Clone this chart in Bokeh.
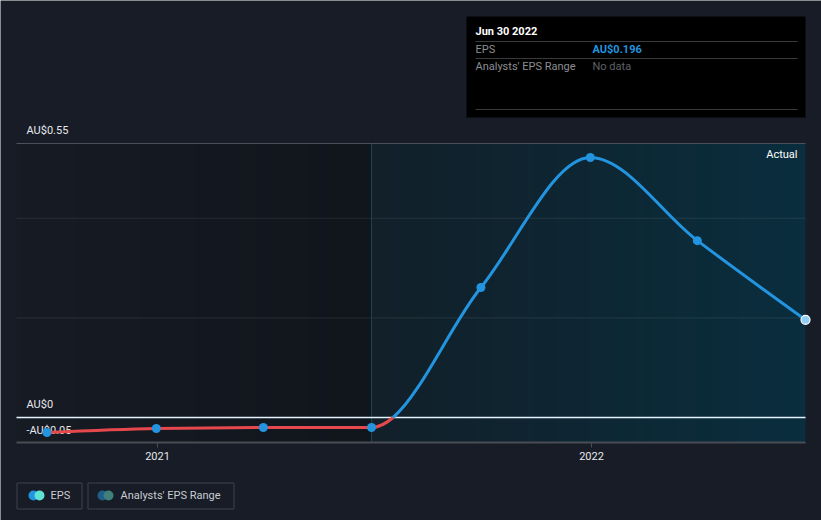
import numpy as np
from bokeh.plotting import figure
from bokeh.models import Range1d, ColumnDataSource
from bokeh.core.properties import value
from bokeh.embed import file_html
from bokeh.resources import INLINE

# ---------------- data ----------------
dates = ["2020-09-30", "2020-12-31", "2021-03-31", "2021-06-30",
         "2021-09-30", "2021-12-31", "2022-03-31", "2022-06-30"]
eps = [-0.030, -0.022, -0.020, -0.020, 0.261, 0.522, 0.355, 0.196]
y_ticks = [0.55, 0.0, -0.05]
y_tick_labels = ["AU$0.55", "AU$0", "-AU$0.05"]
grid_values = [0.2, 0.4]
x_ticks = ["2021-01-01", "2022-01-01"]
x_tick_labels = ["2021", "2022"]
actual_start = "2021-06-30"
y_bottom, y_top = -0.05, 0.55
tooltip_date = "Jun 30 2022"

# ---------------- styles ----------------
BG = "#171c26"
BLUE = "#2394df"
RED = "#e5484d"
FONT = value("Roboto")


def ms(d):
    return float(np.datetime64(d, "ms").astype("int64"))


DAY = 86400000.0
MS_PER_PX = 365 * DAY / 434.0
X0 = ms(x_ticks[0]) - 157 * MS_PER_PX
X1 = X0 + 821 * MS_PER_PX
UPP = 0.55 / 274.0
Y1 = 417 * UPP
Y0 = -(520 - 417) * UPP


def px(p):
    return X0 + p * MS_PER_PX


def py(p):
    return Y1 - p * UPP


p = figure(width=821, height=520, x_range=Range1d(X0, X1), y_range=Range1d(Y0, Y1),
           output_backend="svg", toolbar_location=None, min_border=0,
           x_axis_location=None, y_axis_location=None)
p.grid.visible = False
p.outline_line_color = None
p.background_fill_color = BG
p.border_fill_color = BG

xs = np.array([ms(d) for d in dates])
ys = np.array(eps, dtype=float)
x_left = px(16)
x_right = xs[-1]
x_act = ms(actual_start)


def gradient(c0, c1, n=64):
    c0 = np.array([int(c0[i:i + 2], 16) for i in (1, 3, 5)], dtype=float)
    c1 = np.array([int(c1[i:i + 2], 16) for i in (1, 3, 5)], dtype=float)
    img = np.empty((1, n), dtype=np.uint32)
    view = img.view(dtype=np.uint8).reshape((1, n, 4))
    f = np.linspace(0, 1, n)
    for k in range(3):
        view[0, :, k] = (c0[k] + (c1[k] - c0[k]) * f).astype(np.uint8)
    view[0, :, 3] = 255
    return img


# regions
p.image_rgba(image=[gradient("#171b24", "#11151c")], x=x_left, y=y_bottom,
             dw=x_act - x_left, dh=y_top - y_bottom)
p.image_rgba(image=[gradient("#122029", "#0a2e3e")], x=x_act, y=y_bottom,
             dw=x_right - x_act, dh=y_top - y_bottom)

# grid lines
p.segment(x0=[x_left] * len(grid_values), x1=[x_right] * len(grid_values),
          y0=grid_values, y1=grid_values, line_color="white", line_alpha=0.09, line_width=1)
p.segment(x0=[x_left], x1=[x_right], y0=[y_top], y1=[y_top],
          line_color="#4b5059", line_width=1)
# divider
p.segment(x0=[x_act], x1=[x_act], y0=[y_bottom], y1=[y_top], line_color="#1b4656", line_width=1)
# zero line
p.segment(x0=[x_left], x1=[x_right], y0=[0], y1=[0], line_color="#e3f4ff", line_width=1.5)
# bottom axis
p.segment(x0=[x_left], x1=[x_right], y0=[y_bottom], y1=[y_bottom], line_color="#484d55", line_width=2)
xt = [ms(d) for d in x_ticks]
p.segment(x0=xt, x1=xt, y0=[y_bottom] * len(xt), y1=[py(447)] * len(xt),
          line_color="#484d55", line_width=1)

# y labels
p.text(x=[px(26)] * len(y_ticks), y=[v + 13 * UPP if v != y_bottom else v + 12 * UPP for v in y_ticks],
       text=y_tick_labels, text_font=FONT, text_font_size="11px", text_color="#e6e8eb",
       text_baseline="middle", text_align="left")
# x labels
p.text(x=xt, y=[py(455)] * len(xt), text=x_tick_labels, text_font=FONT, text_font_size="11px",
       text_color="#e6e8eb", text_baseline="middle", text_align="center")

# ---------- smoothed line (monotone X beziers) ----------
n = len(xs)
h = np.diff(xs)
s = np.diff(ys) / h
t = np.zeros(n)
for i in range(1, n - 1):
    h0, h1 = h[i - 1], h[i]
    s0, s1 = s[i - 1], s[i]
    pp = (s0 * h1 + s1 * h0) / (h0 + h1)
    t[i] = (np.sign(s0) + np.sign(s1)) * min(abs(s0), abs(s1), 0.5 * abs(pp))
t[0] = (3 * s[0] - t[1]) / 2
t[-1] = (3 * s[-1] - t[-2]) / 2

segs = {"red": [], "blue": []}


def split(P, tau):
    P = [np.array(q) for q in P]
    a = P[0] + (P[1] - P[0]) * tau
    b = P[1] + (P[2] - P[1]) * tau
    c = P[2] + (P[3] - P[2]) * tau
    d = a + (b - a) * tau
    e = b + (c - b) * tau
    f = d + (e - d) * tau
    return [P[0], a, d, f], [f, e, c, P[3]]


for i in range(n - 1):
    dx = h[i] / 3
    P = [(xs[i], ys[i]), (xs[i] + dx, ys[i] + dx * t[i]),
         (xs[i + 1] - dx, ys[i + 1] - dx * t[i + 1]), (xs[i + 1], ys[i + 1])]
    if ys[i] < 0 < ys[i + 1] or ys[i] > 0 > ys[i + 1]:
        y0_, c0_, c1_, y1_ = P[0][1], P[1][1], P[2][1], P[3][1]
        coeffs = [-y0_ + 3 * c0_ - 3 * c1_ + y1_, 3 * y0_ - 6 * c0_ + 3 * c1_, -3 * y0_ + 3 * c0_, y0_]
        roots = [r.real for r in np.roots(coeffs) if abs(r.imag) < 1e-9 and 0 <= r.real <= 1]
        tau = roots[0]
        A, B = split(P, tau)
        segs["red" if ys[i] < 0 else "blue"].append(A)
        segs["blue" if ys[i] < 0 else "red"].append(B)
    else:
        segs["red" if (ys[i] + ys[i + 1]) / 2 < 0 else "blue"].append(P)

for name, col in (("red", RED), ("blue", BLUE)):
    L = segs[name]
    src = ColumnDataSource(dict(
        x0=[q[0][0] for q in L], y0=[q[0][1] for q in L],
        cx0=[q[1][0] for q in L], cy0=[q[1][1] for q in L],
        cx1=[q[2][0] for q in L], cy1=[q[2][1] for q in L],
        x1=[q[3][0] for q in L], y1=[q[3][1] for q in L]))
    p.bezier(x0="x0", y0="y0", x1="x1", y1="y1", cx0="cx0", cy0="cy0", cx1="cx1", cy1="cy1",
             source=src, line_color=col, line_width=3)

p.scatter(xs[:-1], ys[:-1], size=9, fill_color=BLUE, line_color=None)
p.scatter(xs[-1:], ys[-1:], size=9, fill_color="#8fcff5", line_color="white", line_width=1.2)

# "Actual"
p.text(x=[px(797)], y=[py(154)], text=["Actual"], text_font=FONT, text_font_size="11px",
       text_color="#ffffff", text_baseline="middle", text_align="right")

# ---------- tooltip ----------
p.quad(left=[px(466)], right=[px(805)], top=[py(16)], bottom=[py(117)],
       fill_color="#000000", line_color=None)
p.segment(x0=[px(475)] * 3, x1=[px(797)] * 3, y0=[py(41), py(58), py(109)],
          y1=[py(41), py(58), py(109)], line_color="#3a3a3a", line_width=1)
p.text(x=[px(475)], y=[py(31)], text=[tooltip_date], text_font=FONT, text_font_size="11px",
       text_color="#ffffff", text_font_style="bold", text_baseline="middle")
p.text(x=[px(475), px(475)], y=[py(49), py(66)], text=["EPS", "Analysts' EPS Range"],
       text_font=FONT, text_font_size="11px", text_color="#8b8e93", text_baseline="middle")
p.text(x=[px(592)], y=[py(49)], text=["AU$%.3f" % eps[-1]], text_font=FONT, text_font_size="11px",
       text_color=BLUE, text_font_style="bold", text_baseline="middle")
p.text(x=[px(592)], y=[py(66)], text=["No data"], text_font=FONT, text_font_size="11px",
       text_color="#5f6266", text_baseline="middle")

# ---------- legend ----------
p.quad(left=[px(16.5), px(87.5)], right=[px(81.5), px(233.5)], top=[py(482.5)] * 2,
       bottom=[py(508.5)] * 2, fill_color=None, line_color="#3c414a", line_width=1)
p.scatter([px(33), px(102)], [py(495)] * 2, size=10, fill_color=[BLUE, "#1f5e8a"], line_color=None)
p.scatter([px(39), px(108)], [py(495)] * 2, size=10, fill_color=["#5fe3d5", "#3f807c"], line_color=None)
p.text(x=[px(50), px(120)], y=[py(495)] * 2, text=["EPS", "Analysts' EPS Range"], text_font=FONT,
       text_font_size="11px", text_color="#c9ccd1", text_baseline="middle")

open("out.html", "w").write(file_html(p, INLINE))
